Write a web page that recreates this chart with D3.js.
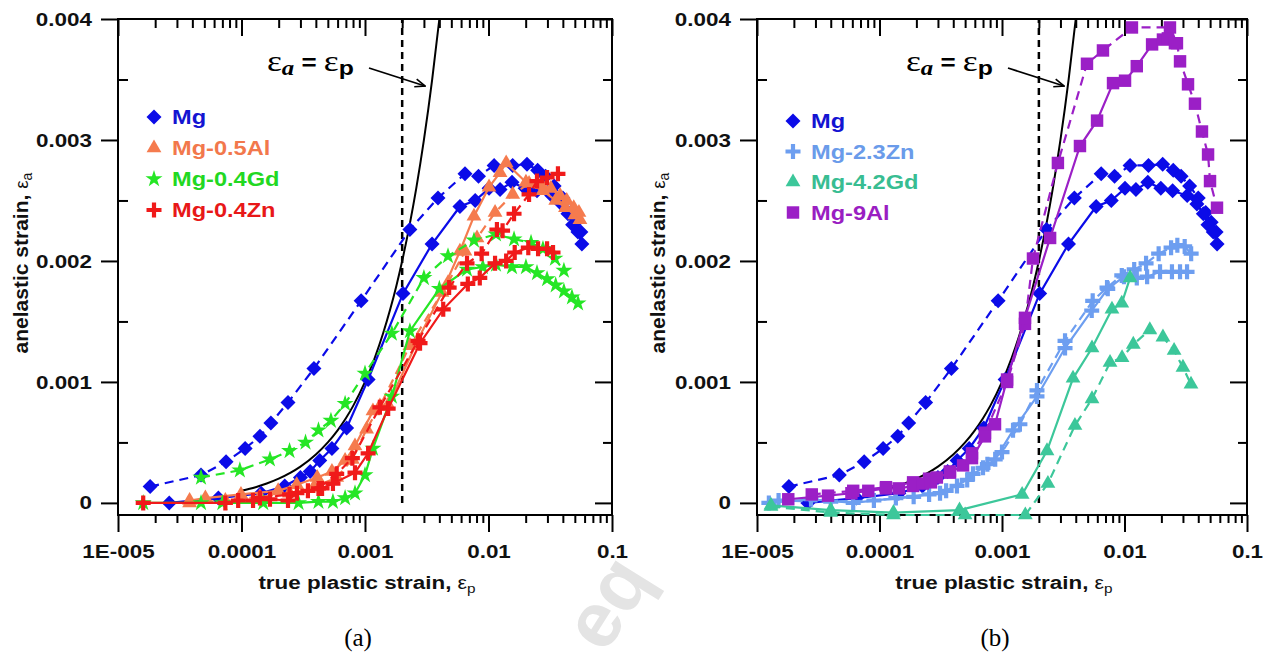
<!DOCTYPE html>
<html>
<head>
<meta charset="utf-8">
<script src="https://cdn.jsdelivr.net/npm/d3@7"></script>
<style>
  body { margin: 0; background: #fff; }
  svg { font-family: "Liberation Sans", Arial, sans-serif; }
  .tick text { font-family: "Liberation Sans", Arial, sans-serif; font-size: 19px; font-weight: bold; fill: #111; }
  .stretch { transform-box: fill-box; transform: scaleX(1.18); }
  .x-lab .tick text, .mid { transform-origin: center; }
  .y-lab .tick text { transform-origin: right center; }
  .leg { transform-origin: left center; }
</style>
</head>
<body>
<svg width="1272" height="653"></svg>
<script>
// axis ticks
var xMajor = [1e-5, 1e-4, 1e-3, 1e-2, 1e-1];
var xTickLabels = ["1E-005", "0.0001", "0.001", "0.01", "0.1"];
var yMajor = [0, 0.001, 0.002, 0.003, 0.004];
var yTickLabels = ["0", "0.001", "0.002", "0.003", "0.004"];
var yMinor = [0.0005, 0.0015, 0.0025, 0.0035];

// eps_a = eps_p reference line and the 0.2% strain line
var identity = [0.0001, 0.00013, 0.00016, 0.0002, 0.00025, 0.0003, 0.0004, 0.0005, 0.0006, 0.0007,
  0.0008, 0.001, 0.0012, 0.0014, 0.0016, 0.0018, 0.002, 0.0023, 0.0026, 0.003, 0.0035, 0.004];
var strainLimit = 0.002;

// pure Mg (both panels): [plastic strain, anelastic strain]
var mgSolid = [[2.6e-5,0],[6.5e-5,0.00004],[1.44e-4,0.00008],[2.24e-4,0.00014],[3.0e-4,0.00021],[3.6e-4,0.00026],
  [4.3e-4,0.00035],[5.4e-4,0.00045],[7.1e-4,0.00062],[1.06e-3,0.00102],[2.03e-3,0.00173],[3.49e-3,0.00214],
  [5.87e-3,0.00245],[7.8e-3,0.0025],[0.0101,0.0026],[0.0124,0.00259],[0.0155,0.00265],[0.0198,0.0026],
  [0.0247,0.00258],[0.0325,0.00254],[0.039,0.00247],[0.044,0.00239],[0.048,0.0023],[0.053,0.00224],[0.057,0.00214]];
var mgDashed = [[1.82e-5,0.000135],[4.7e-5,0.00023],[7.5e-5,0.00034],[1.07e-4,0.00045],[1.41e-4,0.00055],
  [1.73e-4,0.00066],[2.38e-4,0.00083],[3.86e-4,0.00111],[9.3e-4,0.00167],[2.31e-3,0.00226],[3.9e-3,0.00252],
  [6.45e-3,0.00272],[8.3e-3,0.0027],[0.0111,0.00279],[0.0157,0.00279],[0.0205,0.0028],[0.025,0.00275],
  [0.029,0.0027],[0.034,0.00262],[0.04,0.00252],[0.046,0.0024],[0.051,0.00232],[0.056,0.00224]];

// panel (a)
var al05Solid = [[3.8e-5,0.00002],[5.1e-5,0.00004],[9.9e-5,0.00007],[1.98e-4,0.0001],[2.8e-4,0.00015],[4.1e-4,0.00021],
  [5.4e-4,0.00026],[6.9e-4,0.00035],[8.3e-4,0.00047],[1.16e-3,0.00076],[1.54e-3,0.00081],[2.69e-3,0.00135],
  [4.2e-3,0.00174],[5.87e-3,0.00208],[7.63e-3,0.00237],[0.0101,0.00261],[0.0124,0.00273],[0.0139,0.00281],
  [0.0201,0.00265],[0.027,0.00263],[0.032,0.0026],[0.038,0.00254],[0.043,0.0025],[0.049,0.00244],[0.054,0.0024]];
var al05Dashed = [[3.8e-5,0],[7.4e-5,0.00002],[1.41e-4,0.00005],[2.45e-4,0.00008],[3.86e-4,0.00013],[5.9e-4,0.00021],
  [7.9e-4,0.00036],[1.03e-3,0.00061],[1.32e-3,0.0008],[2.31e-3,0.0013],[4.7e-3,0.00182],[6.45e-3,0.00208],
  [8.07e-3,0.00219],[0.0113,0.0024],[0.0157,0.00255],[0.0213,0.00264],[0.0276,0.00258],[0.035,0.0025],
  [0.042,0.00244],[0.05,0.00238],[0.055,0.00234]];
var gd04Solid = [[1.6e-5,0],[4.7e-5,0],[7.0e-5,0],[1.5e-4,0],[2.9e-4,0],[4.2e-4,0.00001],[5.5e-4,0.00001],
  [6.9e-4,0.00004],[8.3e-4,0.00008],[1.0e-3,0.00023],[1.16e-3,0.00045],[1.65e-3,0.00088],[2.31e-3,0.00142],
  [4.0e-3,0.00177],[6.7e-3,0.00193],[9.0e-3,0.00195],[0.0115,0.00197],[0.0155,0.00195],[0.0201,0.00195],
  [0.0247,0.0019],[0.0298,0.00185],[0.035,0.0018],[0.0408,0.00175],[0.0474,0.0017],[0.0531,0.00165]];
var gd04Dashed = [[4.7e-5,0.00021],[9.7e-5,0.00027],[1.7e-4,0.00036],[2.45e-4,0.00043],[3.3e-4,0.0005],
  [4.2e-4,0.0006],[5.3e-4,0.00068],[6.9e-4,0.00082],[1.0e-3,0.00107],[1.65e-3,0.0014],[3.0e-3,0.00186],
  [4.7e-3,0.00204],[7.63e-3,0.00217],[0.0115,0.00222],[0.0161,0.00218],[0.0221,0.00215],[0.0276,0.0021],
  [0.0345,0.00202],[0.0408,0.00192]];
var zn04Solid = [[1.6e-5,0],[7.4e-5,0],[9.4e-5,0.00002],[1.24e-4,0.00002],[1.7e-4,0.00003],[2.38e-4,0.00002],
  [2.81e-4,0.00008],[3.45e-4,0.0001],[4.49e-4,0.00012],[5.5e-4,0.00016],[8.3e-4,0.00025],[1.06e-3,0.00041],
  [1.54e-3,0.00078],[2.79e-3,0.00132],[4.3e-3,0.0016],[6.8e-3,0.00181],[8.5e-3,0.00186],[0.0113,0.00198],
  [0.0139,0.002],[0.0163,0.00207],[0.021,0.00211],[0.0252,0.0021],[0.0298,0.0021],[0.0333,0.00207]];
var zn04Dashed = [[1.41e-4,0.00004],[2.45e-4,0.00007],[4.2e-4,0.00012],[5.9e-4,0.00024],[7.9e-4,0.00037],
  [1.32e-3,0.00079],[2.69e-3,0.00134],[4.8e-3,0.00178],[6.7e-3,0.00198],[8.8e-3,0.00206],[0.0117,0.00226],
  [0.013,0.00225],[0.0161,0.00239],[0.0213,0.00255],[0.0247,0.00266],[0.0298,0.00269],[0.0365,0.00272]];

// panel (b)
var zn23Solid = [[1.25e-5,0],[2.76e-5,0.00003],[6.1e-5,0],[1.36e-4,0.00004],[2.54e-4,0.00007],[3.12e-4,0.00008],
  [4.29e-4,0.00014],[5.8e-4,0.00024],[7.0e-4,0.00029],[8.8e-4,0.00036],[1.23e-3,0.0006],[1.93e-3,0.00088],
  [3.27e-3,0.00128],[5.4e-3,0.00159],[7.3e-3,0.00177],[9.9e-3,0.00187],[0.0126,0.00186],[0.0153,0.00187],
  [0.0195,0.00191],[0.0244,0.00191],[0.0284,0.00191],[0.0324,0.00191]];
var zn23Dashed = [[1.5e-5,0.00002],[4.0e-5,0.00001],[9.0e-5,0.00002],[1.9e-4,0.00005],[3.5e-4,0.0001],
  [5.2e-4,0.00019],[7.6e-4,0.00032],[1.0e-3,0.00042],[1.4e-3,0.00065],[1.93e-3,0.00093],[3.27e-3,0.00134],
  [5.5e-3,0.00167],[7.2e-3,0.00178],[9.5e-3,0.00188],[0.012,0.00193],[0.015,0.00198],[0.019,0.00206],
  [0.024,0.00211],[0.027,0.00213],[0.031,0.00212],[0.035,0.00206]];
var gd42Solid = [[1.3e-5,-0.00002],[4.0e-5,-0.00006],[1.3e-4,-0.00008],[4.5e-4,-0.00006],[1.46e-3,0.00007],
  [2.33e-3,0.00043],[3.8e-3,0.00103],[5.43e-3,0.00128],[7.9e-3,0.0016],[9.5e-3,0.00165],[0.0111,0.00186]];
var gd42Dashed = [[1.3e-5,-0.00003],[4.0e-5,-0.00008],[1.3e-4,-0.0001],[5.0e-4,-0.0001],[1.55e-3,-0.0001],
  [2.37e-3,0.00016],[3.94e-3,0.00064],[5.43e-3,0.00086],[7.62e-3,0.00116],[9.55e-3,0.0012],[0.0118,0.00131],
  [0.0161,0.00143],[0.0206,0.00137],[0.0254,0.00126],[0.03,0.00112],[0.0349,0.00098]];
var al9Solid = [[1.8e-5,0.00003],[3.8e-5,0.00006],[5.9e-5,0.00008],[8.1e-5,0.0001],[1.13e-4,0.00012],[1.44e-4,0.00012],
  [1.88e-4,0.00014],[2.26e-4,0.00016],[2.63e-4,0.00017],[2.94e-4,0.00021],[3.76e-4,0.00025],[4.81e-4,0.00031],
  [5.69e-4,0.00037],[7.26e-4,0.00055],[8.77e-4,0.00065],[1.1e-3,0.00102],[1.54e-3,0.00153],[2.47e-3,0.00219],
  [4.33e-3,0.00295],[5.97e-3,0.00316],[8.06e-3,0.00347],[0.0101,0.00349],[0.0126,0.00361],[0.0168,0.00379],
  [0.0206,0.00383],[0.0226,0.00384],[0.0258,0.0038]];
var al9Dashed = [[2.8e-5,0.00007],[6.1e-5,0.0001],[1.13e-4,0.00013],[1.88e-4,0.00017],[2.54e-4,0.0002],
  [3.76e-4,0.00026],[5.69e-4,0.00041],[7.26e-4,0.00058],[1.1e-3,0.001],[1.54e-3,0.00148],[1.79e-3,0.00202],
  [2.86e-3,0.00281],[4.94e-3,0.00363],[6.67e-3,0.00374],[0.0115,0.00393],[0.0235,0.00393],[0.0268,0.0038],
  [0.0284,0.00365],[0.033,0.00346],[0.0376,0.0033],[0.0429,0.00307],[0.0481,0.00288],[0.0499,0.00266],[0.0569,0.00244]];

var svg = d3.select("svg");

// marker shapes
function diamond(r) { return "M0," + (-r) + "L" + r + ",0L0," + r + "L" + (-r) + ",0Z"; }
function plus(r) { return "M" + (-r) + ",0H" + r + "M0," + (-r) + "V" + r; }
var markers = {
  diamond: { d: diamond(7.5), fill: true },
  triangle: { d: d3.symbol(d3.symbolTriangle, 95)(), fill: true },
  star: { d: d3.symbol(d3.symbolStar, 90)(), fill: true },
  plus: { d: plus(7.5), fill: false },
  square: { d: d3.symbol(d3.symbolSquare, 155)(), fill: true }
};
function addMarker(sel, type, color) {
  var m = markers[type];
  return sel.append("path").attr("d", m.d)
    .attr("fill", m.fill ? color : "none")
    .attr("stroke", m.fill ? "none" : color)
    .attr("stroke-width", m.fill ? 0 : 4.2);
}

var panels = [
  { left: 118, right: 612, tag: "(a)", legendX: 154, legendY: 117, legendStep: 31, yTitleX: 20,
    series: [
      { name: "Mg", color: "#0b0be8", text: "#1414d2", marker: "diamond", solid: mgSolid, dashed: mgDashed },
      { name: "Mg-0.5Al", color: "#f57b4e", text: "#f2784c", marker: "triangle", solid: al05Solid, dashed: al05Dashed },
      { name: "Mg-0.4Gd", color: "#25e625", text: "#22d822", marker: "star", solid: gd04Solid, dashed: gd04Dashed },
      { name: "Mg-0.4Zn", color: "#f01a1a", text: "#e81818", marker: "plus", solid: zn04Solid, dashed: zn04Dashed }
    ] },
  { left: 757, right: 1247, tag: "(b)", legendX: 793, legendY: 121, legendStep: 30.5, yTitleX: 657,
    series: [
      { name: "Mg", color: "#0b0be8", text: "#1414d2", marker: "diamond", solid: mgSolid, dashed: mgDashed },
      { name: "Mg-2.3Zn", color: "#6d9ef0", text: "#6a9bea", marker: "plus", solid: zn23Solid, dashed: zn23Dashed },
      { name: "Mg-4.2Gd", color: "#3cc79a", text: "#38bd92", marker: "triangle", solid: gd42Solid, dashed: gd42Dashed },
      { name: "Mg-9Al", color: "#9b1fc6", text: "#9a1ec2", marker: "square", solid: al9Solid, dashed: al9Dashed }
    ] }
];

var plotTop = 19, plotBottom = 515;

// faint watermark from the source scan
svg.append("text").attr("x", 605).attr("y", 655)
  .attr("transform", "rotate(-58,605,655)")
  .attr("font-size", 78).attr("font-weight", "bold").attr("fill", "#e4e4e4")
  .text("eq");

svg.append("defs").append("marker")
  .attr("id", "arrow").attr("viewBox", "0 0 12 10").attr("refX", 11).attr("refY", 5)
  .attr("markerWidth", 12).attr("markerHeight", 10).attr("markerUnits", "userSpaceOnUse")
  .attr("orient", "auto")
  .append("path").attr("d", "M1,1L11,5L1,9").attr("fill", "none").attr("stroke", "#000").attr("stroke-width", 1.6);

panels.forEach(function (p) {
  var w = p.right - p.left, h = plotBottom - plotTop;
  var x = d3.scaleLog().domain([1e-5, 0.1]).range([0, w]);
  var y = d3.scaleLinear().domain([-0.0001, 0.004]).range([h, 0]);
  var xMinor = x.ticks().filter(function (d) { return xMajor.indexOf(d) < 0; });

  var g = svg.append("g").attr("transform", "translate(" + p.left + "," + plotTop + ")");

  // axes: left/bottom majors outward, mirrored ticks inward
  g.append("g").attr("class", "x-lab").attr("transform", "translate(0," + h + ")")
    .call(d3.axisBottom(x).tickValues(xMajor).tickFormat(function (d, i) { return xTickLabels[i]; })
      .tickSize(17).tickPadding(13).tickSizeOuter(0));
  g.append("g").attr("transform", "translate(0," + h + ")")
    .call(d3.axisBottom(x).tickValues(xMinor).tickFormat("").tickSize(8).tickSizeOuter(0));
  g.append("g").call(d3.axisBottom(x).tickValues(xMajor).tickFormat("").tickSize(17).tickSizeOuter(0));
  g.append("g").call(d3.axisBottom(x).tickValues(xMinor).tickFormat("").tickSize(9).tickSizeOuter(0));
  g.append("g").attr("class", "y-lab")
    .call(d3.axisLeft(y).tickValues(yMajor).tickFormat(function (d, i) { return yTickLabels[i]; })
      .tickSize(17).tickPadding(9).tickSizeOuter(0));
  g.append("g").call(d3.axisRight(y).tickValues(yMinor).tickFormat("").tickSize(10).tickSizeOuter(0));
  g.append("g").attr("transform", "translate(" + w + ",0)")
    .call(d3.axisLeft(y).tickValues(yMajor).tickFormat("").tickSize(17).tickSizeOuter(0));
  g.append("g").attr("transform", "translate(" + w + ",0)")
    .call(d3.axisLeft(y).tickValues(yMinor).tickFormat("").tickSize(9).tickSizeOuter(0));
  g.selectAll(".domain").remove();
  g.selectAll(".tick line").attr("stroke", "#000").attr("stroke-width", 2);
  g.selectAll(".tick text").classed("stretch", true);
  g.append("rect").attr("width", w).attr("height", h)
    .attr("fill", "none").attr("stroke", "#000").attr("stroke-width", 2);

  // 0.2% plastic strain line
  g.append("line")
    .attr("x1", x(strainLimit)).attr("x2", x(strainLimit))
    .attr("y1", y(0)).attr("y2", y(0.004))
    .attr("stroke", "#000").attr("stroke-width", 2.5).attr("stroke-dasharray", "7,5");

  // eps_a = eps_p
  g.append("path").datum(identity)
    .attr("d", d3.line().x(function (d) { return x(d); }).y(function (d) { return y(d); }).curve(d3.curveMonotoneX))
    .attr("fill", "none").attr("stroke", "#000").attr("stroke-width", 2);

  var line = d3.line().x(function (d) { return x(d[0]); }).y(function (d) { return y(d[1]); });

  p.series.forEach(function (s) {
    [["dashed", "9,6"], ["solid", null]].forEach(function (kind) {
      var data = s[kind[0]];
      g.append("path").datum(data).attr("d", line)
        .attr("fill", "none").attr("stroke", s.color).attr("stroke-width", 2.2)
        .attr("stroke-dasharray", kind[1]);
      g.selectAll(null).data(data).enter().append("g")
        .attr("transform", function (d) { return "translate(" + x(d[0]) + "," + y(d[1]) + ")"; })
        .each(function () { addMarker(d3.select(this), s.marker, s.color); });
    });
  });

  // legend
  p.series.forEach(function (s, i) {
    var ly = p.legendY + i * p.legendStep;
    addMarker(svg.append("g").attr("transform", "translate(" + p.legendX + "," + ly + ")"), s.marker, s.color);
    svg.append("text").attr("class", "stretch leg")
      .attr("x", p.legendX + 18).attr("y", ly + 7.5)
      .attr("font-size", 20).attr("font-weight", "bold").attr("fill", s.text)
      .text(s.name);
  });

  // annotation
  var ann = svg.append("text").attr("class", "stretch leg")
    .attr("x", p.left + 149).attr("y", 71).attr("fill", "#000");
  ann.append("tspan").attr("font-family", "Liberation Serif, serif").attr("font-size", 30).text("ε");
  ann.append("tspan").attr("font-family", "Liberation Serif, serif").attr("font-style", "italic")
    .attr("font-weight", "bold").attr("font-size", 21).attr("dy", 4).text("a");
  ann.append("tspan").attr("font-weight", "bold").attr("font-size", 22).attr("dy", -5).text(" = ");
  ann.append("tspan").attr("font-family", "Liberation Serif, serif").attr("font-size", 30).attr("dy", 1).text("ε");
  ann.append("tspan").attr("font-weight", "bold").attr("font-size", 21).attr("dy", 4).text("p");
  svg.append("line")
    .attr("x1", p.left + 251).attr("y1", 68).attr("x2", p.left + 307).attr("y2", 86)
    .attr("stroke", "#000").attr("stroke-width", 1.8).attr("marker-end", "url(#arrow)");

  // axis titles
  var xt = svg.append("text").attr("class", "stretch mid").attr("text-anchor", "middle")
    .attr("x", p.left + w / 2 + 2).attr("y", 589).attr("font-size", 19).attr("fill", "#111");
  xt.append("tspan").attr("font-weight", "bold").text("true plastic strain, ");
  xt.append("tspan").attr("font-size", 18).text("ε");
  xt.append("tspan").attr("font-size", 13).attr("dy", 4).text("p");

  var yt = svg.append("g").attr("transform", "translate(" + p.yTitleX + "," + 263 + ") rotate(-90)")
    .append("text").attr("text-anchor", "middle").attr("y", 8).attr("font-size", 21).attr("fill", "#111");
  yt.append("tspan").attr("font-weight", "bold").text("anelastic strain, ");
  yt.append("tspan").attr("font-size", 19).text("ε");
  yt.append("tspan").attr("font-size", 14).attr("dy", 4).text("a");

  svg.append("text").attr("text-anchor", "middle")
    .attr("x", p.left + w / 2 - 7).attr("y", 646)
    .attr("font-family", "Liberation Serif, serif").attr("font-size", 25).attr("fill", "#000")
    .text(p.tag);
});
</script>
</body>
</html>
